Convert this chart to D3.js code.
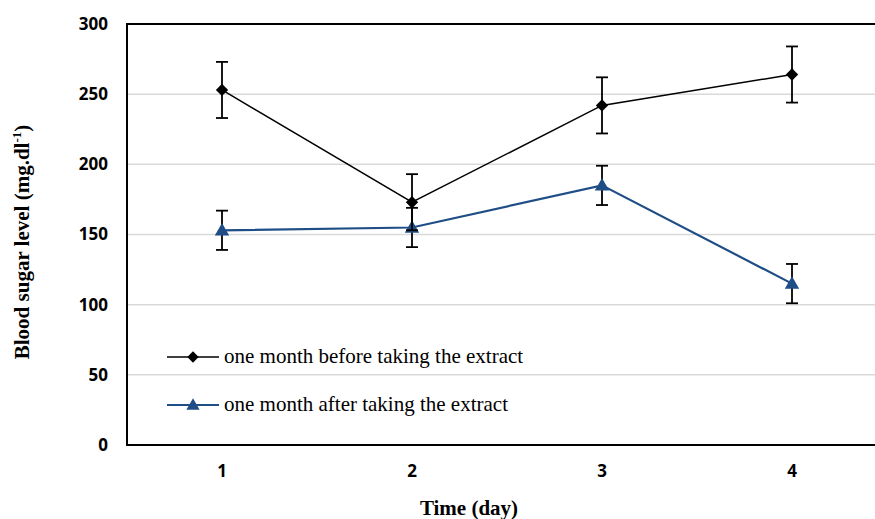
<!DOCTYPE html>
<html><head><meta charset="utf-8">
<script src="https://cdn.jsdelivr.net/npm/d3@7/dist/d3.min.js"></script>
<style>body{margin:0;background:#fff}svg{display:block}</style>
</head><body>
<svg id="c" width="875" height="519"></svg>
<script>
const days = ["1", "2", "3", "4"];
const beforeValues = [253, 173, 242, 264];
const beforeErrors = [20, 20, 20, 20];
const afterValues = [153, 155, 185, 115];
const afterErrors = [14, 14, 14, 14];
const yTicks = [0, 50, 100, 150, 200, 250, 300];
const seriesNames = ["one month before taking the extract", "one month after taking the extract"];
const seriesColors = ["#000000", "#1f4e87"];

const svg = d3.select("#c");
const L = 127, R = 887, T = 24, B = 445;
const x = d3.scaleBand().domain(days).range([L, R]);
const y = d3.scaleLinear().domain([0, 300]).range([B, T]);

svg.append("g").selectAll("line").data(yTicks.filter(d => d > 0 && d < 300)).join("line")
  .attr("x1", L).attr("x2", R).attr("y1", d => y(d)).attr("y2", d => y(d))
  .attr("stroke", "#d9d9d9").attr("stroke-width", 1.5);

svg.append("path").attr("d", `M${R},${T}H${L}V${B}H${R}`)
  .attr("fill", "none").attr("stroke", "#000").attr("stroke-width", 2);

const yAxis = d3.axisLeft(y).tickValues(yTicks).tickSize(0).tickPadding(19);
const gy = svg.append("g").attr("transform", `translate(${L},0)`).call(yAxis);
gy.select(".domain").remove();
gy.selectAll("text").attr("font-family", "'Open Sans', sans-serif").attr("font-weight", "bold")
  .attr("font-size", 17).attr("fill", "#000");

const xAxis = d3.axisBottom(x).tickSize(0).tickPadding(20);
const gx = svg.append("g").attr("transform", `translate(0,${B})`).call(xAxis);
gx.select(".domain").remove();
gx.selectAll("text").attr("font-family", "'Open Sans', sans-serif").attr("font-weight", "bold")
  .attr("font-size", 17).attr("fill", "#000");

svg.append("text").attr("x", 469).attr("y", 515).attr("text-anchor", "middle")
  .attr("font-family", "'Liberation Serif', serif").attr("font-weight", "bold").attr("font-size", 21)
  .text("Time (day)");
const yt = svg.append("text").attr("transform", "translate(29,242) rotate(-90)").attr("text-anchor", "middle")
  .attr("font-family", "'Liberation Serif', serif").attr("font-weight", "bold").attr("font-size", 21);
yt.append("tspan").text("Blood sugar level (mg.dl");
yt.append("tspan").attr("font-size", 13).attr("dy", -8).text("-1");
yt.append("tspan").attr("dy", 8).text(")");

const cx = d => x(d) + x.bandwidth() / 2;
const series = [
  {vals: beforeValues, errs: beforeErrors, color: seriesColors[0], sym: d3.symbolSquare, size: 76, rot: 45, dy: 0, width: 1.5},
  {vals: afterValues, errs: afterErrors, color: seriesColors[1], sym: d3.symbolTriangle, size: 90, rot: 0, dy: 1, width: 2.2}
];

[series[1], series[0]].forEach(s => {
  const pts = days.map((d, i) => ({d, v: s.vals[i], e: s.errs[i]}));
  svg.append("path").datum(pts)
    .attr("d", d3.line().x(p => cx(p.d)).y(p => y(p.v)))
    .attr("fill", "none").attr("stroke", s.color).attr("stroke-width", s.width);
  const eb = svg.append("g").attr("stroke", "#000").attr("stroke-width", 1.8);
  pts.forEach(p => {
    eb.append("line").attr("x1", cx(p.d)).attr("x2", cx(p.d)).attr("y1", y(p.v + p.e)).attr("y2", y(p.v - p.e));
    [p.v + p.e, p.v - p.e].forEach(v => eb.append("line")
      .attr("x1", cx(p.d) - 6).attr("x2", cx(p.d) + 6).attr("y1", y(v)).attr("y2", y(v)));
  });
  svg.append("g").selectAll("path").data(pts).join("path")
    .attr("d", d3.symbol().type(s.sym).size(s.size))
    .attr("transform", p => `translate(${cx(p.d)},${y(p.v) + s.dy}) rotate(${s.rot})`)
    .attr("fill", s.color);
});

const leg = svg.append("g");
series.forEach((s, i) => {
  const ly = 357 + i * 48;
  leg.append("line").attr("x1", 167).attr("x2", 219).attr("y1", ly).attr("y2", ly)
    .attr("stroke", s.color).attr("stroke-width", s.width);
  leg.append("path").attr("d", d3.symbol().type(s.sym).size(s.size * 0.85)())
    .attr("transform", `translate(193,${ly + s.dy}) rotate(${s.rot})`).attr("fill", s.color);
  leg.append("text").attr("x", 224).attr("y", ly + 6)
    .attr("font-family", "'Liberation Serif', serif").attr("font-size", 21).attr("fill", "#000")
    .text(seriesNames[i]);
});
</script>
</body></html>
